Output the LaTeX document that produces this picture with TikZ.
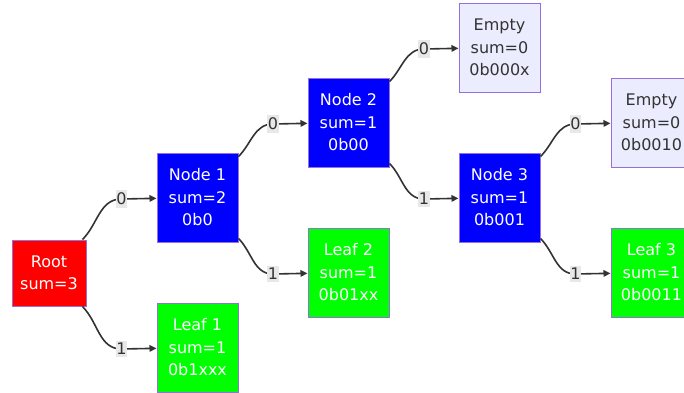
\documentclass[tikz,border=0pt]{standalone}
\usepackage{fontspec}
\setmainfont{DejaVu Sans}
\usetikzlibrary{arrows.meta}
\definecolor{nred}{HTML}{FF0000}
\definecolor{nblue}{HTML}{0000FF}
\definecolor{ngreen}{HTML}{00FF00}
\definecolor{nempty}{HTML}{ECECFF}
\definecolor{nborder}{HTML}{9370DB}
\definecolor{edgec}{HTML}{333333}
\definecolor{lblbg}{HTML}{E8E8E8}
\tikzset{
  box/.style={draw=nborder, line width=1pt, rectangle, minimum width=81pt, minimum height=89pt,
    inner sep=0pt, align=center, text=white, font=\fontsize{16pt}{22.5pt}\selectfont},
  rootbox/.style={box, fill=nred, minimum width=74pt, minimum height=66pt},
  innerbox/.style={box, fill=nblue},
  leafbox/.style={box, fill=ngreen},
  emptybox/.style={box, fill=nempty, text=edgec},
  edge/.style={draw=edgec, line width=1.6pt, -{Triangle[length=7pt,width=6.5pt]}},
  lbl/.style={fill=lblbg, text=edgec, inner xsep=0.6pt, inner ysep=2.5pt,
    font=\fontsize{16pt}{19pt}\selectfont}
}
\begin{document}
\begin{tikzpicture}[x=1pt,y=1pt]
\clip (0,0) rectangle (684,-392);
\fill[white] (0,0) rectangle (684,-392);
% nodes
\node[rootbox] (root) at (49,-273) {Root\\sum=3};
\node[innerbox] (n1) at (197.5,-197.5) {Node 1\\sum=2\\0b0};
\node[leafbox] (l1) at (197.5,-347.5) {Leaf 1\\sum=1\\0b1xxx};
\node[innerbox] (n2) at (348.5,-122.5) {Node 2\\sum=1\\0b00};
\node[leafbox] (l2) at (348.5,-272.5) {Leaf 2\\sum=1\\0b01xx};
\node[emptybox] (e1) at (499.5,-47.5) {Empty\\sum=0\\0b000x};
\node[innerbox] (n3) at (499.5,-197.5) {Node 3\\sum=1\\0b001};
\node[emptybox] (e2) at (651.5,-122.5) {Empty\\sum=0\\0b0010};
\node[leafbox] (l3) at (651.5,-272.5) {Leaf 3\\sum=1\\0b0011};
% label points
\coordinate (c1) at (121.5,-199);
\coordinate (c2) at (121.5,-349);
\coordinate (c3) at (273,-124);
\coordinate (c4) at (273,-274);
\coordinate (c5) at (424,-49);
\coordinate (c6) at (424,-199);
\coordinate (c7) at (575.5,-124);
\coordinate (c8) at (575.5,-274);
% edges
\draw[edge] (root) to[out=45,in=180] (c1) -- (n1);
\draw[edge] (root) to[out=-45,in=180] (c2) -- (l1);
\draw[edge] (n1) to[out=45,in=180] (c3) -- (n2);
\draw[edge] (n1) to[out=-45,in=180] (c4) -- (l2);
\draw[edge] (n2) to[out=45,in=180] (c5) -- (e1);
\draw[edge] (n2) to[out=-45,in=180] (c6) -- (n3);
\draw[edge] (n3) to[out=45,in=180] (c7) -- (e2);
\draw[edge] (n3) to[out=-45,in=180] (c8) -- (l3);
% labels
\node[lbl] (t1) at (c1) {0};
\node[lbl] (t2) at (c2) {1};
\node[lbl] (t3) at (c3) {0};
\node[lbl] (t4) at (c4) {1};
\node[lbl] (t5) at (c5) {0};
\node[lbl] (t6) at (c6) {1};
\node[lbl] (t7) at (c7) {0};
\node[lbl] (t8) at (c8) {1};
\end{tikzpicture}
\end{document}
